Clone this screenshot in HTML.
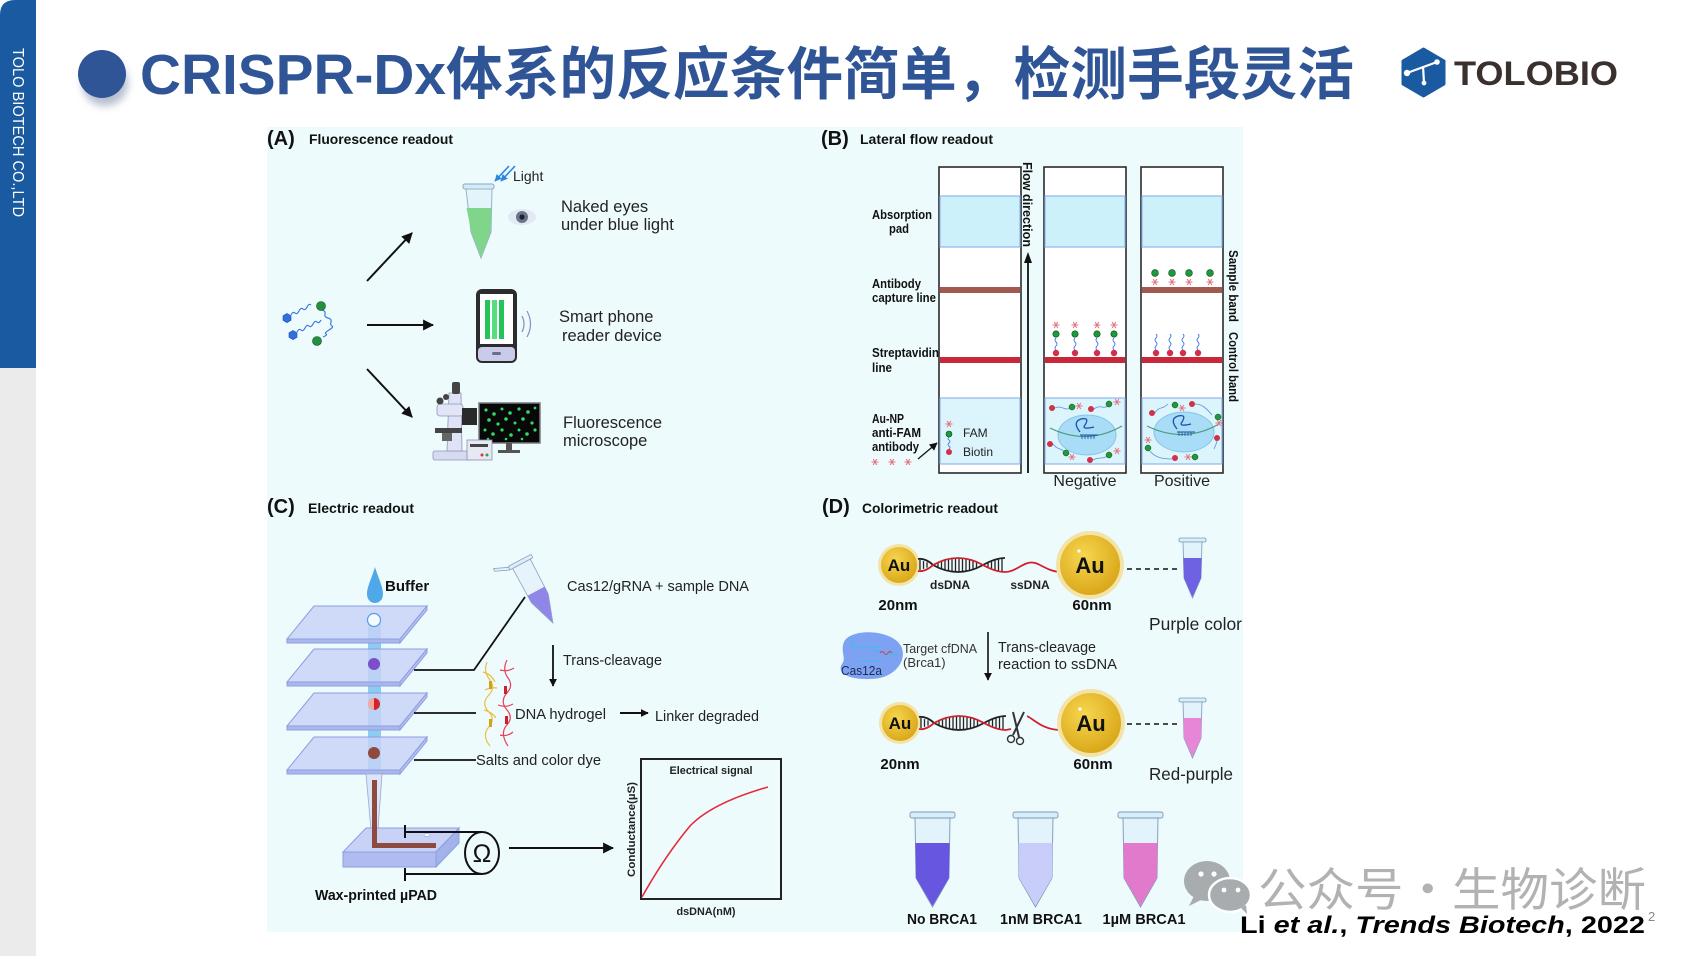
<!DOCTYPE html>
<html><head><meta charset="utf-8">
<style>
html,body{margin:0;padding:0;background:#fff;}
body{width:1700px;height:956px;overflow:hidden;}
svg{display:block;}
text{font-family:"Liberation Sans",Arial,sans-serif;}
.cjk{font-family:"Liberation Sans","Noto Sans CJK SC",sans-serif;}
</style></head><body>
<svg width="1700" height="956" viewBox="0 0 1700 956" xmlns="http://www.w3.org/2000/svg">
<defs>
 <filter id="sh" x="-50%" y="-50%" width="200%" height="200%"><feGaussianBlur stdDeviation="4"/></filter>
 <radialGradient id="au" cx="0.4" cy="0.35" r="0.7"><stop offset="0" stop-color="#f7d650"/><stop offset="1" stop-color="#d8a516"/></radialGradient>
 <marker id="ah" viewBox="0 0 10 10" refX="9" refY="5" markerWidth="11" markerHeight="11" markerUnits="userSpaceOnUse" orient="auto"><path d="M0,0 L10,5 L0,10 z" fill="#111"/></marker>
 <marker id="ahs" viewBox="0 0 10 10" refX="9" refY="5" markerWidth="8" markerHeight="8" markerUnits="userSpaceOnUse" orient="auto"><path d="M0,0 L10,5 L0,10 z" fill="#111"/></marker>
 <marker id="ahb" viewBox="0 0 10 10" refX="9" refY="5" markerWidth="7" markerHeight="7" markerUnits="userSpaceOnUse" orient="auto"><path d="M0,0 L10,5 L0,10 z" fill="#2a86e0"/></marker>
</defs>
<rect width="1700" height="956" fill="#fff"/>

<!-- sidebar -->
<path d="M0,15 Q0,0 15,0 H36 V368 H0 Z" fill="#1a5aa0"/>
<rect x="0" y="368" width="36" height="588" fill="#ebebeb"/>
<text transform="translate(13,48) rotate(90)" font-size="15.5" fill="#fff" textLength="169" lengthAdjust="spacingAndGlyphs">TOLO BIOTECH CO.,LTD</text>

<!-- title -->
<circle cx="105" cy="83" r="23" fill="#7b89a8" opacity="0.55" filter="url(#sh)"/>
<circle cx="102" cy="74" r="24" fill="#2f5597"/>
<text x="140" y="94" class="cjk" font-size="57" font-weight="700" fill="#2f5597" textLength="1214" lengthAdjust="spacingAndGlyphs">CRISPR-Dx体系的反应条件简单，检测手段灵活</text>

<!-- logo -->
<path d="M1423.5,49 L1444,61 L1444,84 L1423.5,96 L1403,84 L1403,61 Z" fill="#1a5aa0" stroke="#1a5aa0" stroke-width="3" stroke-linejoin="round"/>
<path d="M1407,73 L1437,62 M1423,66 L1424,83" stroke="#fff" stroke-width="2.2" fill="none"/>
<circle cx="1407" cy="73" r="3.2" fill="#fff"/><circle cx="1437" cy="62" r="2.8" fill="#fff"/><circle cx="1424" cy="83" r="2.4" fill="#fff"/>
<text x="1454" y="85" font-size="34" font-weight="700" fill="#3a302e" textLength="164" lengthAdjust="spacingAndGlyphs">TOLOBIO</text>

<!-- figure background -->
<rect x="267" y="127" width="976" height="805" fill="#eefbfd"/>

<!-- ================= PANEL A ================= -->
<text x="267" y="145" font-size="20" font-weight="700" fill="#111">(A)</text>
<text x="309" y="144" font-size="14" font-weight="700" fill="#111" textLength="144" lengthAdjust="spacingAndGlyphs">Fluorescence readout</text>

<!-- molecule -->
<g fill="none" stroke="#3a7ae0" stroke-width="1.2">
 <path d="M291,315 q2,-4 4,-2 t4,-2 t4,-2 t4,-2 t4,-2"/>
 <path d="M297,332 q2,-4 4,-2 t4,-2 t4,-2 t4,-2 t4,-2 t4,-2"/>
 <path d="M322,310 q4,1 3,4 t3,4 t3,4 t1,4 t-3,4 t-3,4 t-3,3"/>
</g>
<path d="M287,313.5 l4,2.3 v4.5 l-4,2.3 l-4,-2.3 v-4.5 z" fill="#2f6fe0" stroke="#1a4fb0" stroke-width="0.6"/>
<path d="M293,330.5 l4,2.3 v4.5 l-4,2.3 l-4,-2.3 v-4.5 z" fill="#2f6fe0" stroke="#1a4fb0" stroke-width="0.6"/>
<circle cx="321" cy="306" r="4.5" fill="#22913e" stroke="#0d4a1c" stroke-width="0.6"/>
<circle cx="317" cy="341" r="4.5" fill="#22913e" stroke="#0d4a1c" stroke-width="0.6"/>

<!-- arrows -->
<line x1="367" y1="281" x2="412" y2="233" stroke="#111" stroke-width="2" marker-end="url(#ah)"/>
<line x1="367" y1="325" x2="433" y2="325" stroke="#111" stroke-width="2" marker-end="url(#ah)"/>
<line x1="367" y1="369" x2="412" y2="417" stroke="#111" stroke-width="2" marker-end="url(#ah)"/>

<!-- green tube -->
<line x1="509" y1="166" x2="495" y2="181" stroke="#2a86e0" stroke-width="1.6" marker-end="url(#ahb)"/>
<line x1="515" y1="166" x2="501" y2="181" stroke="#2a86e0" stroke-width="1.6" marker-end="url(#ahb)"/>
<text x="513" y="181" font-size="14" fill="#222">Light</text>
<rect x="463" y="184" width="31" height="5" rx="2" fill="#d3ecf8" stroke="#8aa6c0" stroke-width="1"/>
<path d="M466,189 L492,189 L491,232 L481,258 L471,232 Z" fill="#e3f4fb" stroke="#9bb0c4" stroke-width="1"/>
<path d="M466.5,208 L491.5,208 L490.6,232 L481,257 L471.4,232 Z" fill="#7fd68b"/>
<!-- eye -->
<ellipse cx="522" cy="217" rx="14" ry="8" fill="#e3e9f4"/>
<circle cx="522" cy="217" r="6" fill="#6b7589"/><circle cx="522" cy="217" r="2.6" fill="#1e2230"/>
<text x="561" y="212" font-size="16.5" fill="#222">Naked eyes</text>
<text x="561" y="230" font-size="16.5" fill="#222">under blue light</text>

<!-- phone -->
<rect x="476" y="289" width="41" height="74" rx="6" fill="#2c2c2e"/>
<rect x="480" y="294" width="33" height="50" fill="#fff"/>
<rect x="485" y="300" width="5" height="39" fill="#25c45a"/>
<rect x="492" y="300" width="5" height="39" fill="#55dd80"/>
<rect x="499" y="300" width="5" height="39" fill="#25c45a"/>
<rect x="478" y="347" width="37" height="14" rx="4" fill="#c9cbe8"/>
<rect x="492" y="352" width="9" height="3" rx="1.5" fill="#6a6f90"/>
<path d="M522,316 q4,8 0,16 M527,311 q7,13 0,26" stroke="#8c98c4" stroke-width="1.3" fill="none"/>
<text x="559" y="322" font-size="16.5" fill="#222">Smart phone</text>
<text x="562" y="341" font-size="16.5" fill="#222">reader device</text>

<!-- microscope -->
<rect x="433" y="451" width="38" height="9" rx="2" fill="#d7dbf0" stroke="#8d94b8" stroke-width="0.8"/>
<path d="M449,393 L461,393 L462,451 L447,451 Z" fill="#dfe3f5" stroke="#8d94b8" stroke-width="0.8"/>
<rect x="452" y="382" width="8" height="12" rx="2" fill="#444"/>
<rect x="437" y="404" width="26" height="12" rx="3" fill="#e2e5f6" stroke="#8d94b8" stroke-width="0.8"/>
<circle cx="440" cy="401" r="3.5" fill="#444"/><circle cx="446" cy="397" r="3" fill="#444"/>
<rect x="435" y="428" width="27" height="5" fill="#444"/>
<rect x="442" y="433" width="10" height="8" fill="#666"/>
<rect x="462" y="408" width="15" height="17" fill="#2a2a2a"/>
<rect x="479" y="403" width="61" height="40" fill="#080808" stroke="#7a7a7a" stroke-width="1.5"/>
<g fill="#2fdc6a">
<circle cx="486" cy="410" r="1.6"/><circle cx="494" cy="414" r="1.8"/><circle cx="502" cy="409" r="1.5"/><circle cx="510" cy="413" r="1.8"/><circle cx="519" cy="409" r="1.6"/><circle cx="528" cy="412" r="1.8"/><circle cx="535" cy="408" r="1.4"/>
<circle cx="489" cy="420" r="1.8"/><circle cx="498" cy="424" r="1.6"/><circle cx="506" cy="419" r="1.8"/><circle cx="515" cy="423" r="1.5"/><circle cx="523" cy="419" r="1.8"/><circle cx="532" cy="423" r="1.6"/>
<circle cx="485" cy="430" r="1.5"/><circle cx="493" cy="434" r="1.8"/><circle cx="502" cy="430" r="1.6"/><circle cx="511" cy="435" r="1.8"/><circle cx="519" cy="430" r="1.5"/><circle cx="527" cy="434" r="1.8"/><circle cx="535" cy="430" r="1.6"/>
<circle cx="488" cy="439" r="1.3"/><circle cx="506" cy="439" r="1.3"/><circle cx="522" cy="439" r="1.3"/>
</g>
<rect x="506" y="443" width="6" height="7" fill="#555"/><rect x="498" y="450" width="22" height="3" fill="#555"/>
<rect x="467" y="440" width="25" height="20" fill="#e6e8f4" stroke="#888fb0" stroke-width="0.8"/>
<rect x="470" y="444" width="18" height="3" fill="#444"/>
<circle cx="482" cy="455" r="1.5" fill="#d33"/><circle cx="487" cy="455" r="1.5" fill="#2a4"/>
<text x="563" y="428" font-size="16.5" fill="#222">Fluorescence</text>
<text x="563" y="446" font-size="16.5" fill="#222">microscope</text>

<!-- ================= PANEL B ================= -->
<text x="821" y="145" font-size="20" font-weight="700" fill="#111">(B)</text>
<text x="860" y="144" font-size="14" font-weight="700" fill="#111" textLength="133" lengthAdjust="spacingAndGlyphs">Lateral flow readout</text>

<!-- strips -->
<g stroke-width="1.2">
<rect x="939" y="167" width="82" height="306" fill="#fff" stroke="#2a2a2a" stroke-width="1.6"/>
<rect x="940" y="196" width="80" height="51" fill="#cdf1fb" stroke="#8fb4ef"/>
<rect x="940" y="398" width="80" height="66" fill="#dcf4fb" stroke="#8fb4ef"/>
<rect x="940" y="287" width="80" height="6" fill="#a25a50" stroke="none"/>
<rect x="940" y="357" width="80" height="6" fill="#c9283b" stroke="none"/>

<rect x="1044" y="167" width="82" height="306" fill="#fff" stroke="#2a2a2a" stroke-width="1.6"/>
<rect x="1045" y="196" width="80" height="51" fill="#cdf1fb" stroke="#8fb4ef"/>
<rect x="1045" y="398" width="80" height="66" fill="#dcf4fb" stroke="#8fb4ef"/>
<rect x="1045" y="357" width="80" height="6" fill="#c9283b" stroke="none"/>

<rect x="1141" y="167" width="82" height="306" fill="#fff" stroke="#2a2a2a" stroke-width="1.6"/>
<rect x="1142" y="196" width="80" height="51" fill="#cdf1fb" stroke="#8fb4ef"/>
<rect x="1142" y="398" width="80" height="66" fill="#dcf4fb" stroke="#8fb4ef"/>
<rect x="1142" y="287" width="80" height="6" fill="#a25a50" stroke="none"/>
<rect x="1142" y="357" width="80" height="6" fill="#c9283b" stroke="none"/>
</g>

<!-- flow arrow -->
<line x1="1028" y1="473" x2="1028" y2="262" stroke="#111" stroke-width="1.8"/>
<path d="M1024,263 L1028,252 L1032,263 Z" fill="#111"/>
<text transform="translate(1023,162) rotate(90)" font-size="13" font-weight="700" fill="#111" textLength="85" lengthAdjust="spacingAndGlyphs">Flow direction</text>
<text transform="translate(1229,250) rotate(90)" font-size="12.5" font-weight="700" fill="#111" textLength="72" lengthAdjust="spacingAndGlyphs">Sample band</text>
<text transform="translate(1229,332) rotate(90)" font-size="12.5" font-weight="700" fill="#111" textLength="70" lengthAdjust="spacingAndGlyphs">Control band</text>

<!-- left labels -->
<g font-size="12.5" font-weight="700" fill="#111">
<text x="872" y="219" textLength="60" lengthAdjust="spacingAndGlyphs">Absorption</text>
<text x="889" y="233" textLength="20" lengthAdjust="spacingAndGlyphs">pad</text>
<text x="872" y="288" textLength="49" lengthAdjust="spacingAndGlyphs">Antibody</text>
<text x="872" y="302" textLength="64" lengthAdjust="spacingAndGlyphs">capture line</text>
<text x="872" y="357" textLength="67" lengthAdjust="spacingAndGlyphs">Streptavidin</text>
<text x="872" y="372" textLength="20" lengthAdjust="spacingAndGlyphs">line</text>
<text x="872" y="423" textLength="32" lengthAdjust="spacingAndGlyphs">Au-NP</text>
<text x="872" y="437" textLength="49" lengthAdjust="spacingAndGlyphs">anti-FAM</text>
<text x="872" y="451" textLength="47" lengthAdjust="spacingAndGlyphs">antibody</text>
</g>
<g stroke="#e47484" stroke-width="1.1" fill="none">
<path d="M871.5,462h7M873.2,459l3.6,6M873.2,465l3.6,-6"/>
<path d="M888.5,462h7M890.2,459l3.6,6M890.2,465l3.6,-6"/>
<path d="M904.5,462h7M906.2,459l3.6,6M906.2,465l3.6,-6"/>
<path d="M945.5,424h7M947.2,421l3.6,6M947.2,427l3.6,-6"/>
</g>
<line x1="918" y1="459" x2="937" y2="443" stroke="#111" stroke-width="1.3" marker-end="url(#ahs)"/>
<circle cx="949" cy="434" r="3" fill="#1f9a3a" stroke="#0a4a1a" stroke-width="0.6"/>
<path d="M949,437 q-2,2 0,3 t0,3 t0,3 t0,3" stroke="#3a7ae0" stroke-width="0.9" fill="none"/>
<circle cx="949" cy="452" r="3" fill="#d03048"/>
<text x="963" y="437" font-size="12" fill="#222">FAM</text>
<text x="963" y="456" font-size="12" fill="#222">Biotin</text>

<!-- strip 2 decorations -->
<g stroke="#3a7ae0" stroke-width="0.9" fill="none">
<path d="M1056,350 q-2,-2 0,-4 t0,-4 t0,-4"/><path d="M1075,350 q-2,-2 0,-4 t0,-4 t0,-4"/><path d="M1097,350 q-2,-2 0,-4 t0,-4 t0,-4"/><path d="M1114,350 q-2,-2 0,-4 t0,-4 t0,-4"/>
<path d="M1156,350 q-2,-2 0,-4 t0,-4 t0,-4 t0,-4"/><path d="M1170,350 q-2,-2 0,-4 t0,-4 t0,-4 t0,-4"/><path d="M1183,350 q-2,-2 0,-4 t0,-4 t0,-4 t0,-4"/><path d="M1198,350 q-2,-2 0,-4 t0,-4 t0,-4 t0,-4"/>
</g>
<g fill="#d03048">
<circle cx="1056" cy="353" r="3.2"/><circle cx="1075" cy="353" r="3.2"/><circle cx="1097" cy="353" r="3.2"/><circle cx="1114" cy="353" r="3.2"/>
<circle cx="1156" cy="353" r="3.2"/><circle cx="1170" cy="353" r="3.2"/><circle cx="1183" cy="353" r="3.2"/><circle cx="1198" cy="353" r="3.2"/>
</g>
<g fill="#1f9a3a" stroke="#0a4a1a" stroke-width="0.6">
<circle cx="1056" cy="334" r="3.2"/><circle cx="1075" cy="334" r="3.2"/><circle cx="1097" cy="334" r="3.2"/><circle cx="1114" cy="334" r="3.2"/>
<circle cx="1155" cy="273" r="3.4"/><circle cx="1172" cy="273" r="3.4"/><circle cx="1189" cy="273" r="3.4"/><circle cx="1210" cy="273" r="3.4"/>
</g>
<g stroke="#e47484" stroke-width="1.1" fill="none">
<path d="M1052.5,325h7M1054.2,322l3.6,6M1054.2,328l3.6,-6"/>
<path d="M1071.5,325h7M1073.2,322l3.6,6M1073.2,328l3.6,-6"/>
<path d="M1093.5,325h7M1095.2,322l3.6,6M1095.2,328l3.6,-6"/>
<path d="M1110.5,325h7M1112.2,322l3.6,6M1112.2,328l3.6,-6"/>
<path d="M1151.5,282h7M1153.2,279l3.6,6M1153.2,285l3.6,-6"/>
<path d="M1168.5,282h7M1170.2,279l3.6,6M1170.2,285l3.6,-6"/>
<path d="M1185.5,282h7M1187.2,279l3.6,6M1187.2,285l3.6,-6"/>
<path d="M1206.5,282h7M1208.2,279l3.6,6M1208.2,285l3.6,-6"/>
</g>

<!-- pad blobs -->
<ellipse cx="1087" cy="435" rx="29" ry="20" fill="#a9dcf6" stroke="#86c4ea" stroke-width="1"/>
<ellipse cx="1184" cy="432" rx="30" ry="20" fill="#a9dcf6" stroke="#86c4ea" stroke-width="1"/>
<path d="M1050,428 Q1087,446 1122,426 M1147,426 Q1184,444 1219,424" stroke="#4e9a78" stroke-width="1.2" fill="none"/>
<path d="M1080,432 q-8,-10 1,-13 q9,-2 4,6 q-4,5 9,2 M1177,429 q-8,-10 1,-13 q9,-2 4,6 q-4,5 9,2" stroke="#1a4fb0" stroke-width="1.3" fill="none"/>
<path d="M1080,435 h18 M1177,432 h18" stroke="#1a4fb0" stroke-width="1"/>
<path d="M1082,435v4M1085,435v4M1088,435v4M1091,435v4M1094,435v4M1179,432v4M1182,432v4M1185,432v4M1188,432v4M1191,432v4" stroke="#1a4fb0" stroke-width="0.8"/>
<g stroke="#5a8fe0" stroke-width="0.8" fill="none">
<path d="M1055,408 q4,-2 8,0 t8,0"/><path d="M1094,409 q4,-3 8,-2 t8,-2"/><path d="M1053,444 q3,4 7,5 t6,6"/><path d="M1093,460 q4,-2 8,-2 t8,-3"/>
<path d="M1155,413 q2,-4 6,-5 t7,-4"/><path d="M1195,404 q5,0 9,3 t8,8"/><path d="M1217,441 q-1,4 -3,8"/><path d="M1150,451 q3,4 8,6 t14,2"/>
</g>
<g fill="#d03048">
<circle cx="1052" cy="408" r="3"/><circle cx="1091" cy="409" r="3"/><circle cx="1050" cy="444" r="3"/><circle cx="1090" cy="460" r="3"/>
<circle cx="1152" cy="413" r="3"/><circle cx="1192" cy="404" r="3"/><circle cx="1217" cy="438" r="3"/><circle cx="1175" cy="458" r="3"/>
</g>
<g fill="#1f9a3a" stroke="#0a4a1a" stroke-width="0.5">
<circle cx="1072" cy="407" r="3"/><circle cx="1109" cy="404" r="3"/><circle cx="1066" cy="453" r="3"/><circle cx="1109" cy="455" r="3"/>
<circle cx="1175" cy="405" r="3"/><circle cx="1218" cy="417" r="3"/><circle cx="1148" cy="448" r="3"/><circle cx="1195" cy="457" r="3"/>
</g>
<g stroke="#e47484" stroke-width="1" fill="none">
<path d="M1075.5,406h7M1077.2,403l3.6,6M1077.2,409l3.6,-6"/>
<path d="M1113.5,402h7M1115.2,399l3.6,6M1115.2,405l3.6,-6"/>
<path d="M1068.5,457h7M1070.2,454l3.6,6M1070.2,460l3.6,-6"/>
<path d="M1113.5,451h7M1115.2,448l3.6,6M1115.2,454l3.6,-6"/>
<path d="M1178.5,408h7M1180.2,405l3.6,6M1180.2,411l3.6,-6"/>
<path d="M1215.5,423h7M1217.2,420l3.6,6M1217.2,426l3.6,-6"/>
<path d="M1144.5,440h7M1146.2,437l3.6,6M1146.2,443l3.6,-6"/>
<path d="M1184.5,457h7M1186.2,454l3.6,6M1186.2,460l3.6,-6"/>
</g>
<text x="1085" y="486" font-size="16" fill="#222" text-anchor="middle">Negative</text>
<text x="1182" y="486" font-size="16" fill="#222" text-anchor="middle">Positive</text>

<!-- ================= PANEL C ================= -->
<text x="267" y="513" font-size="20" font-weight="700" fill="#111">(C)</text>
<text x="308" y="513" font-size="14" font-weight="700" fill="#111" textLength="106" lengthAdjust="spacingAndGlyphs">Electric readout</text>

<!-- buffer drop -->
<path d="M375,567 C371,580 367,587 367,594 C367,600 371,603 375,603 C379,603 383,600 383,594 C383,587 379,580 375,567 Z" fill="#4fa8e8"/>
<text x="385" y="591" font-size="15" font-weight="700" fill="#111">Buffer</text>

<!-- column -->
<rect x="368" y="622" width="13" height="154" fill="#8ccbf2"/>
<!-- plates -->
<g stroke="#8d9de2" stroke-width="1">
<polygon points="314,606 427,606 400,639 287,639" fill="#c7d2f6" fill-opacity="0.82"/>
<polygon points="287,639 400,639 400,643 287,643" fill="#aab7ee"/>
<polygon points="400,639 427,606 427,610 400,643" fill="#b6c1f0"/>
<polygon points="314,649 427,649 400,682 287,682" fill="#c7d2f6" fill-opacity="0.82"/>
<polygon points="287,682 400,682 400,686 287,686" fill="#aab7ee"/>
<polygon points="400,682 427,649 427,653 400,686" fill="#b6c1f0"/>
<polygon points="314,693 427,693 400,726 287,726" fill="#c7d2f6" fill-opacity="0.82"/>
<polygon points="287,726 400,726 400,730 287,730" fill="#aab7ee"/>
<polygon points="400,726 427,693 427,697 400,730" fill="#b6c1f0"/>
<polygon points="314,737 427,737 400,770 287,770" fill="#c7d2f6" fill-opacity="0.82"/>
<polygon points="287,770 400,770 400,774 287,774" fill="#aab7ee"/>
<polygon points="400,770 427,737 427,741 400,774" fill="#b6c1f0"/>
</g>
<circle cx="374" cy="620" r="6.5" fill="#f4fbff" stroke="#5a9ae8" stroke-width="1.2"/>
<circle cx="374" cy="664" r="6" fill="#7a4fc8"/>
<path d="M374,698 A6,6 0 0 0 374,710 Z" fill="#f2a8a0"/><path d="M374,698 A6,6 0 0 1 374,710 Z" fill="#d0242e"/>
<circle cx="374" cy="753" r="6" fill="#8f4a40"/>
<!-- funnel -->
<path d="M366,774 L382,774 L378,830 L371,830 Z" fill="#dbe6f8" stroke="#9aaad0" stroke-width="0.8"/>
<!-- base slab -->
<polygon points="366,828 459,828 436,852 343,852" fill="#c7d2f6" stroke="#8d9de2" stroke-width="1"/>
<rect x="343" y="852" width="93" height="15" fill="#b0bcf0" stroke="#8d9de2" stroke-width="1"/>
<polygon points="436,852 459,828 459,843 436,867" fill="#a4b2ea" stroke="#8d9de2" stroke-width="1"/>
<rect x="372" y="780" width="5" height="68" fill="#8f4a40"/>
<rect x="372" y="843" width="64" height="5" fill="#8f4a40"/>
<ellipse cx="427" cy="835" rx="3" ry="1.5" fill="#fff" stroke="#8d9de2" stroke-width="0.6"/>
<!-- electrodes -->
<path d="M405,825 V838 M405,868 V881 M405,832 H482 M405,874 H482" stroke="#111" stroke-width="2" fill="none"/>
<ellipse cx="482" cy="853" rx="17" ry="21" fill="#eefbfd" stroke="#111" stroke-width="2"/>
<text x="482" y="862" font-size="25" fill="#111" text-anchor="middle">Ω</text>
<text x="315" y="900" font-size="15" font-weight="700" fill="#111" textLength="122" lengthAdjust="spacingAndGlyphs">Wax-printed µPAD</text>
<line x1="509" y1="848" x2="613" y2="848" stroke="#111" stroke-width="2" marker-end="url(#ah)"/>

<!-- connectors -->
<path d="M414,670 H474 L525,597" stroke="#111" stroke-width="1.8" fill="none"/>
<path d="M414,713 H476" stroke="#111" stroke-width="1.8" fill="none"/>
<path d="M414,760 H476" stroke="#111" stroke-width="1.8" fill="none"/>

<!-- tilted tube -->
<g transform="translate(537,593) rotate(-28)">
 <path d="M-13,-36 L-27,-42 L-27,-39 L-13,-33" fill="#e6f3fb" stroke="#8aa0c0" stroke-width="0.8"/>
 <rect x="-13" y="-37" width="26" height="4" rx="1.5" fill="#dcedf8" stroke="#8aa0c0" stroke-width="0.8"/>
 <path d="M-10,-33 L10,-33 L9.5,6 L0,34 L-9.5,6 Z" fill="#e6f3fb" stroke="#8aa0c0" stroke-width="0.8"/>
 <path d="M-9.7,-2 L9.7,-2 L9.3,6 L0,33 L-9.3,6 Z" fill="#8f86e8"/>
</g>
<text x="567" y="591" font-size="14.5" fill="#222" textLength="182" lengthAdjust="spacingAndGlyphs">Cas12/gRNA + sample DNA</text>
<line x1="553" y1="645" x2="553" y2="686" stroke="#111" stroke-width="1.8" marker-end="url(#ahs)"/>
<text x="563" y="665" font-size="14.5" fill="#222" textLength="99" lengthAdjust="spacingAndGlyphs">Trans-cleavage</text>

<!-- hydrogel -->
<g fill="none" stroke-width="1.2">
<path d="M487,662 q-4,10 3,18 q6,8 -2,16 q-7,8 1,16 q7,8 -1,16 q-6,8 2,18" stroke="#e8c040"/>
<path d="M483,672 q8,2 12,10 M484,710 q8,2 12,8 M485,690 q6,-3 12,-2" stroke="#e8c040"/>
<path d="M507,660 q-5,10 1,18 q6,8 -2,16 q-6,8 1,16 q7,8 -1,16 q-6,8 2,20" stroke="#e8405a"/>
<path d="M500,670 q8,2 14,-2 M498,705 q8,3 15,-1 M500,735 q7,2 13,-3" stroke="#e8405a"/>
</g>
<rect x="489" y="681" width="3" height="8" fill="#d4a020"/><rect x="489" y="719" width="3" height="8" fill="#d4a020"/>
<rect x="504" y="686" width="3" height="8" fill="#d0202e"/><rect x="505" y="716" width="3" height="8" fill="#d0202e"/>
<text x="515" y="719" font-size="14.5" fill="#222" textLength="91" lengthAdjust="spacingAndGlyphs">DNA  hydrogel</text>
<line x1="620" y1="713" x2="648" y2="713" stroke="#111" stroke-width="2" marker-end="url(#ahs)"/>
<text x="655" y="721" font-size="14.5" fill="#222" textLength="104" lengthAdjust="spacingAndGlyphs">Linker degraded</text>
<text x="476" y="765" font-size="14.5" fill="#222" textLength="125" lengthAdjust="spacingAndGlyphs">Salts and color dye</text>

<!-- graph -->
<rect x="641" y="759" width="140" height="140" fill="none" stroke="#222" stroke-width="2"/>
<text x="711" y="774" font-size="11" font-weight="700" fill="#222" text-anchor="middle" textLength="83" lengthAdjust="spacingAndGlyphs">Electrical  signal</text>
<path d="M642,897 Q665,856 690,826 Q712,803 768,787" stroke="#e8283c" stroke-width="1.6" fill="none"/>
<text transform="translate(635,877) rotate(-90)" font-size="11" font-weight="700" fill="#222" textLength="95" lengthAdjust="spacingAndGlyphs">Conductance(µS)</text>
<text x="706" y="915" font-size="11" font-weight="700" fill="#222" text-anchor="middle" textLength="59" lengthAdjust="spacingAndGlyphs">dsDNA(nM)</text>

<!-- ================= PANEL D ================= -->
<text x="822" y="513" font-size="20" font-weight="700" fill="#111">(D)</text>
<text x="862" y="513" font-size="14" font-weight="700" fill="#111" textLength="136" lengthAdjust="spacingAndGlyphs">Colorimetric readout</text>

<!-- row 1 -->
<g>
<circle cx="899" cy="565" r="21" fill="#f3e3a6"/>
<circle cx="899" cy="565" r="18" fill="url(#au)"/>
<path d="M918,559 C923,558 929,561 933,565 C941,569.5 950,572 958,572 C966,572 975,569.5 983,565 C991,560.5 998,558 1005,558" stroke="#222" stroke-width="1.8" fill="none"/>
<path d="M920,559.9v10.2 M923.5,561.1v7.8 M927,562.4v5.2 M938,562.8v4.4 M941.5,561.4v7.2 M945,560.2v9.6 M948.5,559.2v11.6 M952,558.5v13 M955.5,558.1v13.8 M959,558v14 M962.5,558.3v13.4 M966,558.9v12.2 M969.5,559.8v10.4 M973,560.9v8.2 M976.5,562.2v5.6 M988,562.8v4.4 M991.5,561.5v7 M995,560.2v9.6 M998.5,559.2v11.6 M1002,558.5v13" stroke="#222" stroke-width="1.3"/>
<path d="M918,571 C923,572 929,569 933,565 C941,560.5 950,558 958,558 C966,558 975,560.5 983,565 C991,569.5 998,572 1005,572" stroke="#d0202e" stroke-width="1.8" fill="none"/>
</g>
<path d="M1005,572 C1018,572 1025,558 1038,564 C1046,568 1052,572 1062,572" stroke="#d0202e" stroke-width="1.8" fill="none"/>
<circle cx="1090" cy="565" r="34" fill="#f3e3a6"/>
<circle cx="1090" cy="565" r="30" fill="url(#au)"/>
<circle cx="1079" cy="551" r="1.6" fill="#fff"/>
<text x="899" y="571" font-size="17" font-weight="700" fill="#111" text-anchor="middle">Au</text>
<text x="1090" y="573" font-size="22" font-weight="700" fill="#111" text-anchor="middle">Au</text>
<text x="950" y="589" font-size="12" font-weight="700" fill="#222" text-anchor="middle">dsDNA</text>
<text x="1030" y="589" font-size="12" font-weight="700" fill="#222" text-anchor="middle">ssDNA</text>
<text x="898" y="610" font-size="15" font-weight="700" fill="#111" text-anchor="middle">20nm</text>
<text x="1092" y="610" font-size="15" font-weight="700" fill="#111" text-anchor="middle">60nm</text>
<line x1="1127" y1="569" x2="1177" y2="569" stroke="#333" stroke-width="1.8" stroke-dasharray="5,4"/>
<rect x="1179" y="538" width="27" height="4" rx="1.5" fill="#d8eef8" stroke="#7a98b8" stroke-width="0.8"/>
<path d="M1183,542 L1202,542 L1201,578 L1192.5,598 L1184,578 Z" fill="#e2f3fb" stroke="#7a98b8" stroke-width="0.8"/>
<path d="M1183.4,558 L1201.6,558 L1201,578 L1192.5,597 L1184,578 Z" fill="#6d62e2"/>
<text x="1149" y="630" font-size="17.5" fill="#222" textLength="93" lengthAdjust="spacingAndGlyphs">Purple color</text>

<!-- middle -->
<path d="M845,640 C855,628 892,630 901,646 C908,660 895,679 870,679 C850,680 836,673 842,664 C847,657 839,651 845,640 Z" fill="#7ea2f2"/>
<path d="M851,637 L853,647 L880,647 M857,661 L880,661 M872,650 L897,655" stroke="#36c0e8" stroke-width="1.1" fill="none"/>
<path d="M880,653 q2,-3 4,0 t4,0 t4,0" stroke="#d04050" stroke-width="1" fill="none"/>
<text x="841" y="675" font-size="12.5" fill="#1d2a50" textLength="41" lengthAdjust="spacingAndGlyphs">Cas12a</text>
<text x="903" y="653" font-size="13" fill="#333" textLength="74" lengthAdjust="spacingAndGlyphs">Target cfDNA</text>
<text x="903" y="667" font-size="13" fill="#333">(Brca1)</text>
<line x1="988" y1="632" x2="988" y2="680" stroke="#111" stroke-width="1.6" marker-end="url(#ahs)"/>
<text x="998" y="652" font-size="15" fill="#222" textLength="98" lengthAdjust="spacingAndGlyphs">Trans-cleavage</text>
<text x="998" y="669" font-size="15" fill="#222" textLength="119" lengthAdjust="spacingAndGlyphs">reaction to ssDNA</text>

<!-- row 2 -->
<g transform="translate(1,158)">
<circle cx="899" cy="565" r="21" fill="#f3e3a6"/>
<circle cx="899" cy="565" r="18" fill="url(#au)"/>
<path d="M918,559 C923,558 929,561 933,565 C941,569.5 950,572 958,572 C966,572 975,569.5 983,565 C991,560.5 998,558 1005,558" stroke="#222" stroke-width="1.8" fill="none"/>
<path d="M920,559.9v10.2 M923.5,561.1v7.8 M927,562.4v5.2 M938,562.8v4.4 M941.5,561.4v7.2 M945,560.2v9.6 M948.5,559.2v11.6 M952,558.5v13 M955.5,558.1v13.8 M959,558v14 M962.5,558.3v13.4 M966,558.9v12.2 M969.5,559.8v10.4 M973,560.9v8.2 M976.5,562.2v5.6 M988,562.8v4.4 M991.5,561.5v7 M995,560.2v9.6 M998.5,559.2v11.6 M1002,558.5v13" stroke="#222" stroke-width="1.3"/>
<path d="M918,571 C923,572 929,569 933,565 C941,560.5 950,558 958,558 C966,558 975,560.5 983,565 C991,569.5 998,572 1005,572" stroke="#d0202e" stroke-width="1.8" fill="none"/>
<path d="M1005,572 L1010,571" stroke="#d0202e" stroke-width="1.8"/>
<path d="M1026,558 C1034,562 1042,572 1060,572" stroke="#d0202e" stroke-width="1.8" fill="none"/>
<circle cx="1090" cy="565" r="34" fill="#f3e3a6"/>
<circle cx="1090" cy="565" r="30" fill="url(#au)"/>
<circle cx="1079" cy="551" r="1.6" fill="#fff"/>
</g>
<!-- scissors -->
<path d="M1013,735 L1024,712 M1019,737 L1013,712" stroke="#333" stroke-width="2" fill="none"/>
<circle cx="1011" cy="739" r="3.5" fill="none" stroke="#333" stroke-width="1.4"/>
<circle cx="1020" cy="741" r="3.5" fill="none" stroke="#333" stroke-width="1.4"/>
<text x="900" y="729" font-size="17" font-weight="700" fill="#111" text-anchor="middle">Au</text>
<text x="1091" y="731" font-size="22" font-weight="700" fill="#111" text-anchor="middle">Au</text>
<text x="900" y="769" font-size="15" font-weight="700" fill="#111" text-anchor="middle">20nm</text>
<text x="1093" y="769" font-size="15" font-weight="700" fill="#111" text-anchor="middle">60nm</text>
<line x1="1127" y1="724" x2="1177" y2="724" stroke="#333" stroke-width="1.8" stroke-dasharray="5,4"/>
<rect x="1179" y="698" width="27" height="4" rx="1.5" fill="#d8eef8" stroke="#7a98b8" stroke-width="0.8"/>
<path d="M1183,702 L1202,702 L1201,738 L1192.5,758 L1184,738 Z" fill="#e2f3fb" stroke="#7a98b8" stroke-width="0.8"/>
<path d="M1183.4,718 L1201.6,718 L1201,738 L1192.5,757 L1184,738 Z" fill="#e786d6"/>
<text x="1149" y="780" font-size="17.5" fill="#222" textLength="84" lengthAdjust="spacingAndGlyphs">Red-purple</text>

<!-- bottom tubes -->
<g>
<rect x="910" y="812" width="45" height="6" rx="2" fill="#d8eef8" stroke="#7a98b8" stroke-width="0.9"/>
<path d="M915,818 L950,818 L949,878 L932.5,907 L916,878 Z" fill="#e2f3fb" stroke="#7a98b8" stroke-width="0.9"/>
<path d="M915.4,843 L949.6,843 L948.9,878 L932.5,906 L916.1,878 Z" fill="#6757e0"/>
</g>
<g transform="translate(103,0)">
<rect x="910" y="812" width="45" height="6" rx="2" fill="#d8eef8" stroke="#7a98b8" stroke-width="0.9"/>
<path d="M915,818 L950,818 L949,878 L932.5,907 L916,878 Z" fill="#e2f3fb" stroke="#7a98b8" stroke-width="0.9"/>
<path d="M915.4,843 L949.6,843 L948.9,878 L932.5,906 L916.1,878 Z" fill="#c9cdfa"/>
</g>
<g transform="translate(208,0)">
<rect x="910" y="812" width="45" height="6" rx="2" fill="#d8eef8" stroke="#7a98b8" stroke-width="0.9"/>
<path d="M915,818 L950,818 L949,878 L932.5,907 L916,878 Z" fill="#e2f3fb" stroke="#7a98b8" stroke-width="0.9"/>
<path d="M915.4,843 L949.6,843 L948.9,878 L932.5,906 L916.1,878 Z" fill="#e27acb"/>
</g>
<text x="942" y="924" font-size="15" font-weight="700" fill="#111" text-anchor="middle" textLength="70" lengthAdjust="spacingAndGlyphs">No BRCA1</text>
<text x="1041" y="924" font-size="15" font-weight="700" fill="#111" text-anchor="middle" textLength="82" lengthAdjust="spacingAndGlyphs">1nM  BRCA1</text>
<text x="1144" y="924" font-size="15" font-weight="700" fill="#111" text-anchor="middle" textLength="83" lengthAdjust="spacingAndGlyphs">1µM  BRCA1</text>

<!-- watermark -->
<ellipse cx="1207" cy="881" rx="23" ry="20" fill="#a7acae"/>
<path d="M1194,896 l-5,10 l12,-6 z" fill="#a7acae"/>
<ellipse cx="1230" cy="895" rx="21" ry="17" fill="#a7acae" stroke="#fff" stroke-width="2.5"/>
<path d="M1241,908 l6,6 l-1,-9 z" fill="#a7acae"/>
<circle cx="1201" cy="874" r="2.6" fill="#fff"/><circle cx="1214" cy="874" r="2.6" fill="#fff"/>
<circle cx="1224" cy="890" r="2.4" fill="#fff"/><circle cx="1238" cy="890" r="2.4" fill="#fff"/>
<text x="1258" y="906" class="cjk" font-size="46" fill="#b2b2b2" textLength="388" lengthAdjust="spacingAndGlyphs">公众号・生物诊断</text>

<!-- citation -->
<text x="1240" y="933" font-size="24" font-weight="700" fill="#000" textLength="405" lengthAdjust="spacingAndGlyphs">Li <tspan font-style="italic">et al.</tspan>, <tspan font-style="italic">Trends Biotech</tspan>, 2022</text>
<text x="1648" y="921" font-size="13" fill="#888">2</text>
</svg>
</body></html>
